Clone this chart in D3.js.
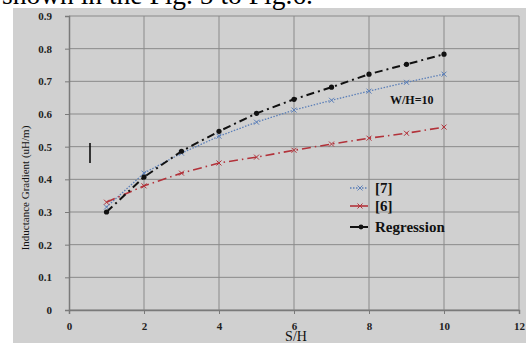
<!DOCTYPE html>
<html lang="en">
<head>
<meta charset="UTF-8">
<title>Inductance Gradient vs S/H</title>
<style>
  html, body { margin: 0; padding: 0; background: #fff; }
  svg { display: block; }
  text { font-family: 'Liberation Serif', 'Times New Roman', serif; }
  .grid line { stroke: #8a8a8a; stroke-width: 1; }
  .axis path, .axis line { stroke: #7a7a7a; }
  .axis text { fill: #222; font-size: 11px; font-weight: bold; font-family: 'Liberation Serif', serif; }
</style>
</head>
<body>
<svg id="chart" width="526" height="343"></svg>
<script src="https://d3js.org/d3.v7.min.js"></script>
<script>
// S/H values
const sh = [1, 2, 3, 4, 5, 6, 7, 8, 9, 10];
// series
const ref7 = [0.315, 0.419, 0.48, 0.532, 0.575, 0.612, 0.642, 0.67, 0.697, 0.722];
const ref6 = [0.33, 0.38, 0.419, 0.45, 0.468, 0.489, 0.508, 0.526, 0.541, 0.56];
const regression = [0.30, 0.407, 0.486, 0.547, 0.602, 0.645, 0.682, 0.722, 0.752, 0.783];
const xTicks = [0, 2, 4, 6, 8, 10, 12];
const yTicks = [0, 0.1, 0.2, 0.3, 0.4, 0.5, 0.6, 0.7, 0.8, 0.9];

const svg = d3.select("#chart");
const margin = {top: 16, right: 7, bottom: 33, left: 69};

// grey panel
svg.append("rect").attr("x", 13).attr("y", 8).attr("width", 513).attr("height", 335).attr("fill", "#d0d0d0");

// caption line cut off at the top
svg.append("text").attr("x", 2).attr("y", 4)
  .attr("font-size", 27.5).attr("fill", "#000")
  .text("shown in the Fig. 5 to Fig.6.");

const x = d3.scaleLinear().domain([0, 12]).range([0, 450]);
const y = d3.scaleLinear().domain([0, 0.9]).range([294, 0]);

const g = svg.append("g").attr("transform", "translate(" + margin.left + "," + margin.top + ")");

// grid
g.append("g").attr("class", "grid")
  .selectAll("line").data(yTicks).join("line")
  .attr("x1", 0).attr("x2", x(12)).attr("y1", d => y(d)).attr("y2", d => y(d));
g.append("g").attr("class", "grid")
  .selectAll("line").data(xTicks.slice(1)).join("line")
  .attr("x1", d => x(d)).attr("x2", d => x(d)).attr("y1", 0).attr("y2", y(0));

g.append("g").attr("class", "axis")
  .attr("transform", "translate(0," + y(0) + ")")
  .call(d3.axisBottom(x).tickValues(xTicks).tickSize(4).tickPadding(8).tickFormat(d3.format("d")))
  .call(s => s.attr("font-family", null).attr("font-size", null))
  .call(s => s.select(".domain").attr("stroke-width", 1.5));

g.append("g").attr("class", "axis")
  .call(d3.axisLeft(y).tickValues(yTicks).tickSize(4).tickPadding(13).tickFormat(d => d === 0 ? "0" : d3.format(".1f")(d)))
  .call(s => s.attr("font-family", null).attr("font-size", null))
  .call(s => s.select(".domain").attr("stroke-width", 1.5));

const line = d3.line().x((d, i) => x(sh[i])).y(d => y(d));

const series = [
  {name: "[7]", data: ref7, color: "#5b7fb8", dash: "1.5,1.5", width: 1.3, marker: "x"},
  {name: "[6]", data: ref6, color: "#b2323a", dash: "9,4,1.5,4", width: 1.6, marker: "x"},
  {name: "Regression", data: regression, color: "#111", dash: "8,4,2,4", width: 2, marker: "dot"}
];

series.forEach(s => {
  g.append("path").datum(s.data)
    .attr("fill", "none").attr("stroke", s.color)
    .attr("stroke-width", s.width).attr("stroke-dasharray", s.dash)
    .attr("d", line);
  const pts = g.append("g").selectAll("g").data(s.data).join("g")
    .attr("transform", (d, i) => "translate(" + x(sh[i]) + "," + y(d) + ")");
  if (s.marker === "dot") {
    pts.append("circle").attr("r", 2.6).attr("fill", s.color);
  } else {
    pts.append("path").attr("d", "M-2.5,-2.5L2.5,2.5M-2.5,2.5L2.5,-2.5")
      .attr("stroke", s.color).attr("stroke-width", 1).attr("fill", "none");
  }
});

// legend
const legend = g.append("g").attr("transform", "translate(" + (350 - margin.left) + "," + (188 - margin.top) + ")");
series.forEach((s, i) => {
  const ly = i === 2 ? 39 : i * 18;
  legend.append("line").attr("x1", 0).attr("x2", 18).attr("y1", ly).attr("y2", ly)
    .attr("stroke", s.color).attr("stroke-width", s.width)
    .attr("stroke-dasharray", s.name === "[7]" ? "1.5,1.5" : null);
  if (s.marker === "dot") legend.append("circle").attr("cx", 11).attr("cy", ly).attr("r", 2.4).attr("fill", s.color);
  else legend.append("path").attr("transform", "translate(10," + ly + ")")
    .attr("d", "M-2.5,-2.5L2.5,2.5M-2.5,2.5L2.5,-2.5").attr("stroke", s.color).attr("fill", "none");
  legend.append("text").attr("x", 25).attr("y", ly + 5)
    .attr("font-size", 15).attr("font-weight", "bold").attr("fill", "#111").text(s.name);
});

// annotation
g.append("text").attr("x", 390 - margin.left).attr("y", 104 - margin.top)
  .attr("font-size", 12).attr("font-weight", "bold").attr("fill", "#111").text("W/H=10");

// small vertical mark
svg.append("line").attr("x1", 90).attr("x2", 90).attr("y1", 143).attr("y2", 163)
  .attr("stroke", "#000").attr("stroke-width", 1.5);

// axis titles
svg.append("text").attr("transform", "translate(29,188) rotate(-90)")
  .attr("text-anchor", "middle").attr("font-size", 11).attr("fill", "#111")
  .text("Inductance Gradient (uH/m)");
svg.append("text").attr("x", 296).attr("y", 341).attr("text-anchor", "middle")
  .attr("font-size", 14).attr("fill", "#111").text("S/H");
</script>
</body>
</html>
